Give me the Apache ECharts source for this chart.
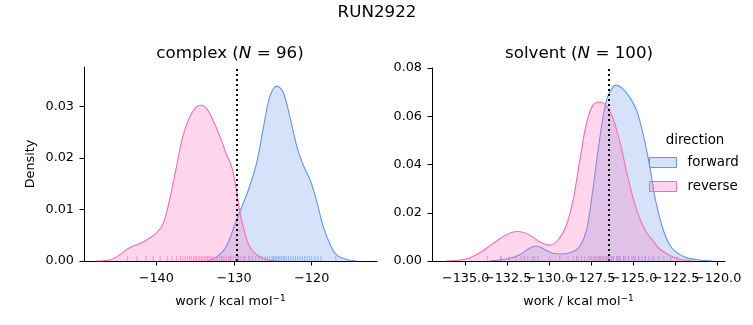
<!DOCTYPE html>
<html><head><meta charset="utf-8">
<script src="https://cdn.jsdelivr.net/npm/echarts@6/dist/echarts.min.js"></script>
<style>html,body{margin:0;padding:0;background:#fff}#c{width:753px;height:325px}</style>
</head><body><div id="c"></div>
<script>
// ---- data ----
const complexFwdX = [-133.5,-132.3,-131.0,-129.7,-128.8,-128.0,-127.1,-126.2,-125.4,-124.5,-123.7,-122.8,-121.9,-121.1,-120.2,-119.4,-118.5,-117.6,-116.8,-115.5,-114.2];
const complexFwdY = [0,0.0007,0.0028,0.0079,0.0112,0.0144,0.0189,0.0260,0.0318,0.0339,0.0328,0.0279,0.0221,0.0186,0.0157,0.0118,0.0066,0.0031,0.0012,0.0003,0];
const complexRevX = [-147.7,-145.6,-143.4,-141.7,-140.0,-139.1,-138.3,-137.4,-136.6,-135.7,-134.8,-134.2,-133.5,-132.7,-131.8,-131.0,-130.3,-129.7,-129.2,-128.6,-128.0,-127.1,-125.8,-124.5];
const complexRevY = [0,0.0004,0.0026,0.0037,0.0054,0.0073,0.0118,0.0183,0.0241,0.0279,0.0299,0.0302,0.0295,0.0273,0.0241,0.0208,0.0183,0.0137,0.0092,0.0054,0.0028,0.0012,0.0003,0];
const solventFwdX = [-133.6,-132.6,-131.8,-131.2,-130.8,-130.3,-129.8,-129.2,-128.6,-128.2,-127.8,-127.4,-127.0,-126.6,-126.2,-126.0,-125.6,-125.2,-124.8,-124.4,-124.0,-123.7,-123.3,-122.9,-122.5,-121.9,-121.1,-120.3];
const solventFwdY = [0,0.0008,0.0025,0.0053,0.0062,0.0048,0.0032,0.0029,0.0039,0.0060,0.0129,0.0309,0.0516,0.0669,0.0724,0.0728,0.0710,0.0675,0.0620,0.0516,0.0378,0.0253,0.0143,0.0073,0.0039,0.0015,0.0004,0];
const solventRevX = [-136.15,-135.0,-134.2,-133.4,-132.6,-131.9,-131.2,-130.6,-130.0,-129.5,-129.0,-128.6,-128.2,-127.8,-127.4,-127.0,-126.6,-126.2,-125.8,-125.4,-125.0,-124.6,-124.2,-123.8,-123.5,-122.9,-122.3,-121.5];
const solventRevY = [0,0.0008,0.0032,0.0071,0.0108,0.0122,0.0108,0.0080,0.0066,0.0087,0.0149,0.0253,0.0419,0.0572,0.0648,0.0659,0.0641,0.0585,0.0489,0.0364,0.0253,0.0170,0.0115,0.0080,0.0053,0.0025,0.0008,0];

const complexRevRug = [-143.7,-142.5,-141.3,-140.4,-139.5,-138.6,-138.0,-137.4,-136.9,-136.6,-136.3,-136.0,-135.7,-135.5,-135.2,-135.0,-134.8,-134.6,-134.4,-134.2,-134.0,-133.8,-133.6,-133.4,-133.2,-133.0,-132.8,-132.5,-132.2,-131.9,-131.6,-131.3,-131.0,-130.7,-130.4,-130.1,-129.8,-129.5,-129.1,-128.6,-127.9];
const complexFwdRug = [-131.6,-130.5,-129.4,-128.7,-128.1,-127.6,-127.2,-126.8,-126.4,-126.0,-125.7,-125.4,-125.1,-124.9,-124.7,-124.5,-124.3,-124.1,-123.9,-123.7,-123.5,-123.3,-123.0,-122.7,-122.4,-122.1,-121.8,-121.5,-121.2,-120.9,-120.6,-120.3,-120.0,-119.6,-119.2,-118.8,-116.9];
const solventRevRug = [-133.7,-132.9,-132.4,-132.0,-131.7,-131.3,-130.9,-130.0,-129.4,-128.9,-128.6,-128.3,-128.1,-127.9,-127.7,-127.5,-127.4,-127.2,-127.1,-127.0,-126.9,-126.7,-126.6,-126.4,-126.2,-126.0,-125.8,-125.6,-125.3,-125.0,-124.7,-124.3,-123.9,-122.4];
const solventFwdRug = [-132.9,-131.5,-131.0,-130.7,-128.4,-127.6,-127.3,-127.0,-126.8,-126.6,-126.5,-126.3,-126.2,-126.0,-125.9,-125.8,-125.6,-125.5,-125.3,-125.1,-124.9,-124.7,-124.5,-124.3,-124.1,-123.8,-123.5,-123.2,-122.8];

const complexVLine = -129.6;
const solventVLine = -126.5;

const complexXTicks = [-140,-130,-120];
const solventXTicks = [-135,-132.5,-130,-127.5,-125,-122.5,-120];
const solventXLabelsA = [-135,-130,-125,-120];
const solventXLabelsB = [-132.5,-127.5,-122.5];
const complexYTicks = [0,0.01,0.02,0.03];
const solventYTicks = [0,0.02,0.04,0.06,0.08];

// ---- chart ----
const FONT = 'DejaVu Sans';
const FS = 12.8;
const BLUE = '#6495ED', PINK = '#FF69B4';
const BLUE_FILL = 'rgba(100,149,237,0.27)', PINK_FILL = 'rgba(255,105,180,0.27)';
const zip = (a,b) => a.map((v,i)=>[v,b[i]]);
const minus = s => String(s).replace('-', '\u2212');
const GRID_H = 193;
const XMARGIN = 11;

function xAxis(gi, min, max, ticks, labels, digits){
  return {type:'value', gridIndex:gi, min, max, position:'bottom',
    axisLine:{show:true, onZero:false, lineStyle:{color:'#000', width:1}},
    axisTick:{show:true, inside:false, length:4.5, lineStyle:{color:'#000'}, customValues:ticks},
    axisLabel:{show:true, margin:XMARGIN, color:'#000', fontSize:FS, fontFamily:FONT, customValues:labels,
      showMinLabel:true, showMaxLabel:true, hideOverlap:false,
      formatter:v=>minus(v.toFixed(digits))},
    splitLine:{show:false},
    name:'{m|work / kcal mol}{s|\u22121}', nameLocation:'middle', nameGap:33,
    nameTextStyle:{rich:{
      m:{color:'#000', fontSize:FS, fontFamily:FONT, lineHeight:16},
      s:{color:'#000', fontSize:9, fontFamily:FONT, verticalAlign:'top', lineHeight:10}}}};
}
// companion axis carrying the in-between labels (drawn at the bottom edge, below the line)
function xAxisExtra(gi, min, max, labels, digits){
  return {type:'value', gridIndex:gi, min, max, position:'top', offset:-GRID_H,
    axisLine:{show:false}, axisTick:{show:false}, splitLine:{show:false},
    axisLabel:{show:true, inside:true, margin:XMARGIN, color:'#000', fontSize:FS, fontFamily:FONT, customValues:labels,
      showMinLabel:true, showMaxLabel:true, hideOverlap:false,
      formatter:v=>minus(v.toFixed(digits))}};
}
function yAxis(gi, max, ticks, name){
  return {type:'value', gridIndex:gi, min:0, max,
    axisLine:{show:true, lineStyle:{color:'#000', width:1}},
    axisTick:{show:true, inside:false, length:4.5, lineStyle:{color:'#000'}, customValues:ticks},
    axisLabel:{show:true, margin:10, color:'#000', fontSize:FS, fontFamily:FONT, customValues:ticks,
      showMinLabel:true, showMaxLabel:true, hideOverlap:false,
      formatter:v=>v.toFixed(2)},
    splitLine:{show:false},
    name:name, nameLocation:'middle', nameGap:47, nameRotate:90,
    nameTextStyle:{color:'#000', fontSize:FS, fontFamily:FONT}};
}
function kde(name, gi, xs, ys, line, fill, z){
  return {type:'line', name, xAxisIndex:gi, yAxisIndex:gi, data:zip(xs,ys), smooth:0.35,
    showSymbol:false, symbol:'none', z, lineStyle:{color:line, width:1.1}, itemStyle:{color:line},
    areaStyle:{color:fill, opacity:1, origin:'start'}, silent:true, animation:false};
}
function rug(name, gi, vals, color){
  return {type:'scatter', name, xAxisIndex:gi, yAxisIndex:gi, data:vals.map(v=>[v,0]),
    symbol:'rect', symbolSize:[1,5], symbolOffset:[0,-2.5], itemStyle:{color, opacity:0.6},
    z:5, silent:true, animation:false};
}
function vline(gi, x){
  return {type:'line', xAxisIndex:gi, yAxisIndex:gi, data:[], silent:true, z:10,
    markLine:{symbol:'none', silent:true, animation:false, label:{show:false},
      lineStyle:{color:'#000', type:[2,3], width:2}, data:[{xAxis:x}]}};
}
const titleStyle = {fontSize:16.7, fontWeight:'normal', color:'#000', fontFamily:FONT};
const richTitle = {a:{fontSize:16.7, fontWeight:'normal', color:'#000', fontFamily:FONT},
                   i:{fontSize:16.7, fontWeight:'normal', color:'#000', fontFamily:FONT, fontStyle:'italic'}};

const chart = echarts.init(document.getElementById('c'), null, {renderer:'canvas'});
chart.setOption({
  animation:false,
  backgroundColor:'#fff',
  title:[
    {text:'RUN2922', left:377, textAlign:'center', top:4, padding:0, textStyle:titleStyle},
    {text:'{a|complex (}{i|N}{a| = 96)}', left:230, textAlign:'center', top:45, padding:0, textStyle:{fontWeight:'normal', rich:richTitle}},
    {text:'{a|solvent (}{i|N}{a| = 100)}', left:579, textAlign:'center', top:45, padding:0, textStyle:{fontWeight:'normal', rich:richTitle}},
    {text:'direction', left:695, textAlign:'center', top:134, padding:0, textStyle:{fontSize:13.4, fontWeight:'normal', color:'#000', fontFamily:FONT}}
  ],
  legend:{orient:'vertical', left:649, top:156, itemWidth:27, itemHeight:10, itemGap:11, padding:0,
    icon:'rect', selectedMode:false,
    textStyle:{fontSize:13.4, color:'#000', fontFamily:FONT, padding:[0,0,0,6]},
    data:[
      {name:'forward', icon:'rect', itemStyle:{color:BLUE_FILL, opacity:1, borderColor:BLUE, borderWidth:1}},
      {name:'reverse', icon:'rect', itemStyle:{color:PINK_FILL, opacity:1, borderColor:PINK, borderWidth:1}}
    ]},
  grid:[
    {left:84, top:67, width:293, height:194, containLabel:false},
    {left:432, top:68, width:293, height:GRID_H, containLabel:false}
  ],
  xAxis:[
    xAxis(0, -149.3, -111.6, complexXTicks, complexXTicks, 0),
    xAxis(1, -137.0, -119.56, solventXTicks, solventXLabelsA, 1),
    xAxisExtra(1, -137.0, -119.56, solventXLabelsB, 1)
  ],
  yAxis:[ yAxis(0, 0.0376, complexYTicks, 'Density'), yAxis(1, 0.08, solventYTicks, '') ],
  series:[
    kde('forward', 0, complexFwdX, complexFwdY, BLUE, BLUE_FILL, 2),
    kde('reverse', 0, complexRevX, complexRevY, PINK, PINK_FILL, 3),
    rug('forward', 0, complexFwdRug, BLUE),
    rug('reverse', 0, complexRevRug, PINK),
    vline(0, complexVLine),
    kde('forward', 1, solventFwdX, solventFwdY, BLUE, BLUE_FILL, 2),
    kde('reverse', 1, solventRevX, solventRevY, PINK, PINK_FILL, 3),
    rug('forward', 1, solventFwdRug, BLUE),
    rug('reverse', 1, solventRevRug, PINK),
    vline(1, solventVLine)
  ]
});
</script></body></html>
